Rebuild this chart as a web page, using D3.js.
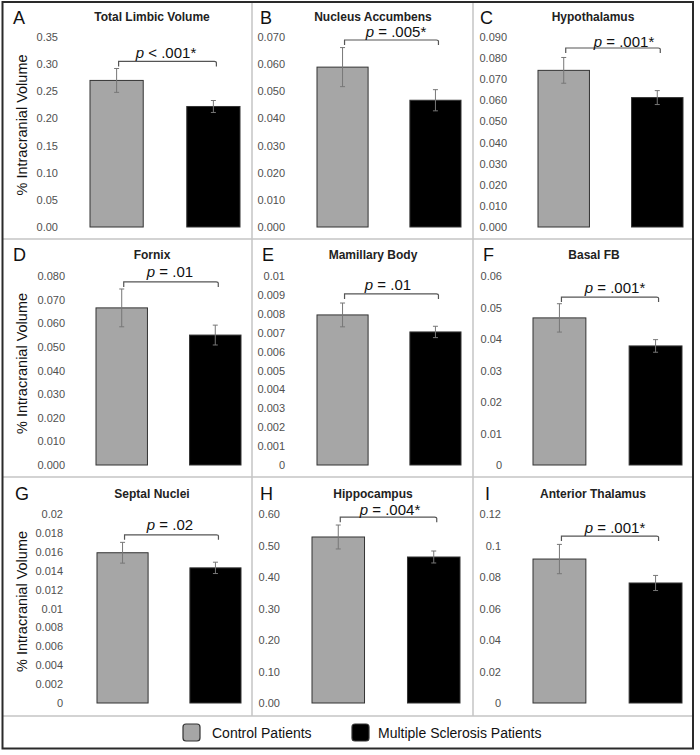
<!DOCTYPE html>
<html>
<head>
<meta charset="utf-8">
<script src="https://cdn.jsdelivr.net/npm/d3@7"></script>
<style>
  html, body { margin: 0; padding: 0; background: #fff; }
  svg { display: block; font-family: "Liberation Sans", Arial, sans-serif; }
</style>
</head>
<body>
<svg id="chart" width="700" height="755"></svg>
<script>
// ---------------- DATA ----------------
const panelLetters = ["A", "B", "C", "D", "E", "F", "G", "H", "I"];
const panelTitles = ["Total Limbic Volume", "Nucleus Accumbens", "Hypothalamus",
                     "Fornix", "Mamillary Body", "Basal FB",
                     "Septal Nuclei", "Hippocampus", "Anterior Thalamus"];
const groups = ["Control Patients", "Multiple Sclerosis Patients"];
const controlMeans  = [0.270, 0.0589, 0.0742, 0.0665, 0.00794, 0.0467, 0.0159, 0.527, 0.0914];
const controlErrors = [0.022, 0.0072, 0.0061, 0.0080, 0.00063, 0.0045, 0.0011, 0.038, 0.0093];
const msMeans       = [0.222, 0.0467, 0.0613, 0.0550, 0.00704, 0.0378, 0.0143, 0.4635, 0.0762];
const msErrors      = [0.011, 0.0039, 0.0033, 0.0042, 0.00030, 0.0020, 0.0006, 0.019, 0.0048];
const pLabels = ["p < .001*", "p = .005*", "p = .001*", "p = .01", "p = .01", "p = .001*",
                 "p = .02", "p = .004*", "p = .001*"];
const bracketLevels = [0.305, 0.0689, 0.0848, 0.0775, 0.00905, 0.0533, 0.0178, 0.590, 0.106];
const yMaxes    = [0.35, 0.07, 0.09, 0.08, 0.01, 0.06, 0.02, 0.60, 0.12];
const tickSteps = [0.05, 0.01, 0.01, 0.01, 0.001, 0.01, 0.002, 0.10, 0.02];
// null = Excel "General" style (shortest form)
const tickDecimals = [2, 3, 3, 3, null, null, null, 2, null];
const yAxisTitle = "% Intracranial Volume";
const groupColors = ["#a6a6a6", "#000000"];

// ---------------- LAYOUT ----------------
const rowY = [ {bottom: 227, top: 37, title: 21, letter: 24},
               {bottom: 465, top: 276, title: 259, letter: 261},
               {bottom: 703, top: 514, title: 498, letter: 500} ];
const panelLayout = [
  {barX: [90, 240],  tickX: 58,  letterX: 13,  titleX: 152, pX: 166, pY: 58},
  {barX: [317, 461], tickX: 285, letterX: 260, titleX: 373, pX: 396, pY: 37},
  {barX: [538, 683], tickX: 507, letterX: 480, titleX: 593, pX: 624, pY: 47},
  {barX: [96, 241],  tickX: 65,  letterX: 13,  titleX: 152, pX: 170, pY: 277},
  {barX: [317, 461], tickX: 285, letterX: 262, titleX: 373, pX: 388, pY: 290},
  {barX: [533, 682], tickX: 502, letterX: 483, titleX: 594, pX: 615, pY: 293},
  {barX: [97, 241],  tickX: 63,  letterX: 15,  titleX: 152, pX: 170, pY: 530},
  {barX: [312, 460], tickX: 280, letterX: 260, titleX: 373, pX: 390, pY: 515},
  {barX: [533, 682], tickX: 501, letterX: 485, titleX: 593, pX: 615, pY: 533}
];

const svg = d3.select("#chart");

// frame and dividers
const divider = "#c4c4c4";
[[252, 2, 252, 716], [473, 2, 473, 716], [2, 239, 693, 239], [2, 477, 693, 477], [2, 716, 693, 716]]
  .forEach(([x1, y1, x2, y2]) => svg.append("line")
    .attr("x1", x1).attr("y1", y1).attr("x2", x2).attr("y2", y2)
    .attr("stroke", divider).attr("stroke-width", 1.5));
svg.append("rect").attr("x", 2.5).attr("y", 2).attr("width", 690.5).attr("height", 746.5)
  .attr("fill", "none").attr("stroke", "#2a2a2a").attr("stroke-width", 2);

function fmtTick(v, dec) {
  if (dec == null) return String(+v.toFixed(6));
  return v.toFixed(dec);
}

panelLetters.forEach((letter, i) => {
  const L = panelLayout[i];
  const R = rowY[Math.floor(i / 3)];
  const g = svg.append("g");

  const y = d3.scaleLinear().domain([0, yMaxes[i]]).range([R.bottom, R.top]);
  const x = d3.scaleBand().domain(groups).range(L.barX).paddingInner(0.45).paddingOuter(0);

  // ticks (labels only, no axis line)
  const nT = Math.round(yMaxes[i] / tickSteps[i]);
  const ticks = d3.range(0, nT + 1).map(k => k * tickSteps[i]);
  const axis = d3.axisLeft(y).tickValues(ticks).tickSize(0).tickPadding(0)
    .tickFormat(v => fmtTick(v, tickDecimals[i]));
  const ax = g.append("g").attr("transform", `translate(${L.tickX},0)`).call(axis);
  ax.select(".domain").remove();
  ax.selectAll("text").attr("fill", "#505050").attr("font-size", 11)
    .attr("font-family", "'Liberation Sans', Arial, sans-serif");

  // letter and title
  g.append("text").attr("x", L.letterX).attr("y", R.letter).text(letter)
    .attr("font-size", 18).attr("fill", "#111");
  g.append("text").attr("x", L.titleX).attr("y", R.title).text(panelTitles[i])
    .attr("text-anchor", "middle").attr("font-size", 12).attr("font-weight", "bold").attr("fill", "#222");

  // y axis title in first column
  if (i % 3 === 0) {
    const cy = (R.bottom + R.top) / 2 - 7;
    g.append("text").attr("transform", `translate(27,${cy}) rotate(-90)`)
      .attr("text-anchor", "middle").attr("font-size", 14.5).attr("fill", "#111")
      .text(yAxisTitle);
  }

  // bars
  const means = [controlMeans[i], msMeans[i]];
  const errs = [controlErrors[i], msErrors[i]];
  const data = groups.map((grp, k) => ({grp, m: means[k], e: errs[k], c: groupColors[k]}));
  g.selectAll("rect.bar").data(data).join("rect").attr("class", "bar")
    .attr("x", d => x(d.grp)).attr("width", x.bandwidth())
    .attr("y", d => y(d.m)).attr("height", d => y(0) - y(d.m))
    .attr("fill", d => d.c).attr("stroke", "#333").attr("stroke-width", 1);

  // error bars
  const eb = g.selectAll("g.err").data(data).join("g").attr("class", "err")
    .attr("transform", d => `translate(${x(d.grp) + x.bandwidth() / 2},0)`);
  eb.append("line").attr("y1", d => y(d.m + d.e)).attr("y2", d => y(d.m - d.e))
    .attr("stroke", "#777").attr("stroke-width", 1);
  eb.append("line").attr("x1", -2.5).attr("x2", 2.5).attr("y1", d => y(d.m + d.e)).attr("y2", d => y(d.m + d.e))
    .attr("stroke", "#777").attr("stroke-width", 1);
  eb.append("line").attr("x1", -2.5).attr("x2", 2.5).attr("y1", d => y(d.m - d.e)).attr("y2", d => y(d.m - d.e))
    .attr("stroke", "#777").attr("stroke-width", 1);

  // significance bracket
  const bx1 = x(groups[0]) + x.bandwidth() / 2 + 2;
  const bx2 = x(groups[1]) + x.bandwidth() / 2 + 3;
  const by = y(bracketLevels[i]);
  g.append("path")
    .attr("d", `M${bx1},${by + 5} L${bx1},${by} Q${bx1},${by} ${bx1 + 2},${by} L${bx2 - 2},${by} Q${bx2},${by} ${bx2},${by + 1} L${bx2},${by + 5}`)
    .attr("fill", "none").attr("stroke", "#555").attr("stroke-width", 1.2);

  const pt = g.append("text").attr("x", L.pX).attr("y", L.pY)
    .attr("text-anchor", "middle").attr("font-size", 15).attr("fill", "#111");
  pt.append("tspan").attr("font-style", "italic").text(pLabels[i].charAt(0));
  pt.append("tspan").text(pLabels[i].slice(1));
});

// legend
const legendX = [183, 352];
const legendTextX = [212, 378];
const lg = svg.append("g");
groups.forEach((grp, k) => {
  lg.append("rect").attr("x", legendX[k]).attr("y", 724).attr("width", 17).attr("height", 17)
    .attr("rx", 3).attr("fill", groupColors[k]).attr("stroke", "#333").attr("stroke-width", 1.2);
  lg.append("text").attr("x", legendTextX[k]).attr("y", 738).text(grp)
    .attr("font-size", 14).attr("fill", "#111");
});
</script>
</body>
</html>
